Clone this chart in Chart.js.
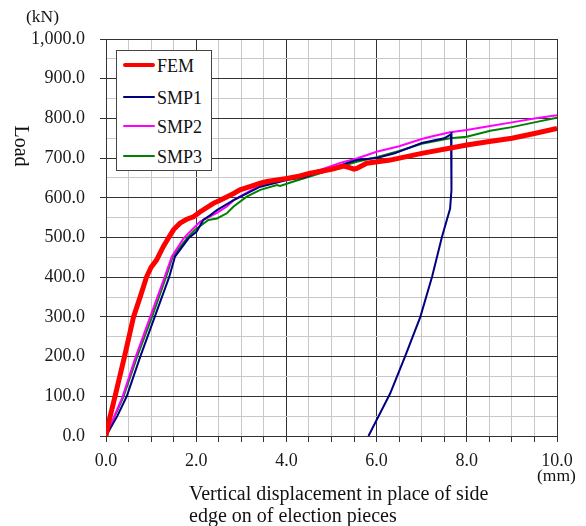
<!DOCTYPE html>
<html>
<head>
<meta charset="utf-8">
<script src="https://cdn.jsdelivr.net/npm/chart.js@4.4.0/dist/chart.umd.min.js"></script>
<style>
  html, body { margin: 0; padding: 0; background: #fff; }
  #wrap { width: 586px; height: 526px; position: relative; font-family: "Liberation Serif", serif; color: #111; }
  .txt { position: absolute; white-space: nowrap; }
  #legend { position: absolute; left: 116px; top: 50px; width: 96px; height: 121px; box-sizing: border-box; border: 1px solid #444; background: #fff; }
  .sw { position: absolute; left: 6px; width: 32px; border-radius: 2px; }
  .lab { position: absolute; left: 40px; font-size: 18px; line-height: 18px; }
</style>
</head>
<body>
<div id="wrap">
  <canvas id="myChart" width="586" height="526"></canvas>
  <div id="yUnit" class="txt" style="left:26px; top:8px; font-size:17.5px; line-height:17.5px;"></div>
  <div id="xUnit" class="txt" style="left:537px; top:467px; font-size:17.5px; line-height:17.5px;"></div>
  <div id="xTitle" class="txt" style="left:189px; top:482px; font-size:20px; line-height:22px;"></div>
  <div id="yTitle" class="txt" style="left:-8px; top:136px; width:60px; height:20px; font-size:20px; line-height:20px; text-align:center; transform:rotate(90deg);"></div>
  <div id="legend"></div>
</div>
<script>
// displacement (mm) / load (kN)
const femX = [0, 0.05, 0.2, 0.41, 0.61, 0.76, 0.9, 1.0, 1.12, 1.27, 1.38, 1.5, 1.64, 1.79, 1.94, 2.09, 2.38, 2.53, 2.83, 2.97, 3.19, 3.42, 3.57, 4.01, 4.3, 4.53, 5.0, 5.27, 5.4, 5.5, 5.56, 5.78, 6.3, 7.0, 8.0, 8.5, 9.0, 9.5, 10.0]
const femY = [0, 30, 100, 200, 300, 351, 401, 425, 443, 477, 498, 520, 536, 546, 552, 565, 586, 594, 611, 620, 628, 637, 641, 649, 655, 662, 672, 680, 676, 672, 674, 687, 695, 712, 733, 742, 750, 762, 775]

const smp1X = [0, 0.25, 0.46, 0.76, 1.08, 1.4, 1.53, 1.83, 2.01, 2.16, 2.3, 2.46, 2.83, 3.05, 3.42, 4.01, 4.4, 4.75, 5.2, 5.56, 6.0, 6.4, 7.0, 7.5, 7.65, 7.67, 7.66, 7.65, 7.63, 7.45, 7.23, 6.97, 6.63, 6.3, 5.82]
const smp1Y = [0, 50, 100, 200, 300, 400, 452, 498, 515, 545, 555, 569, 594, 607, 628, 645, 652, 666, 682, 695, 700, 712, 738, 750, 760, 766, 700, 620, 573, 502, 401, 300, 200, 107, 0]

const smp2X = [0, 0.37, 0.66, 0.98, 1.3, 1.46, 1.72, 1.9, 2.09, 2.46, 2.68, 2.83, 3.42, 4.01, 4.75, 5.19, 5.56, 6.0, 6.5, 7.0, 7.19, 7.63, 8.0, 8.52, 9.0, 9.5, 10.0]
const smp2Y = [0, 100, 200, 300, 400, 452, 498, 519, 540, 562, 578, 594, 632, 647, 670, 688, 699, 716, 730, 748, 754, 765, 771, 781, 790, 800, 808]

const smp3X = [0, 0.39, 0.69, 1.02, 1.33, 1.48, 1.79, 1.97, 2.27, 2.46, 2.68, 2.83, 3.12, 3.42, 3.79, 3.86, 4.16, 4.75, 5.19, 5.56, 6.0, 6.5, 7.0, 7.63, 8.0, 8.52, 9.0, 9.5, 10.0]
const smp3Y = [0, 100, 200, 300, 400, 452, 498, 519, 544, 548, 561, 578, 603, 620, 632, 630, 641, 662, 678, 691, 702, 718, 736, 750, 754, 769, 778, 790, 802]

const seriesNames = ['FEM', 'SMP1', 'SMP2', 'SMP3']
const seriesColors = ['#ff0000', '#000080', '#ff00ff', '#008000']
const seriesWidths = [5, 2, 2, 2]

const xMin = 0, xMax = 10, xStep = 0.5
const yMin = 0, yMax = 1000, yStep = 50

const xTitle = ['Vertical displacement in place of side', 'edge on of election pieces']
const yTitle = 'Load'
const yUnit = '(kN)'
const xUnit = '(mm)'

const FONT = '"Liberation Serif", serif'

const toPts = (xs, ys) => xs.map((x, i) => ({ x: x, y: ys[i] }))
const allX = [femX, smp1X, smp2X, smp3X]
const allY = [femY, smp1Y, smp2Y, smp3Y]

const datasets = seriesNames.map((name, i) => ({
    label: name,
    data: toPts(allX[i], allY[i]),
    showLine: true,
    borderColor: seriesColors[i],
    backgroundColor: seriesColors[i],
    borderWidth: seriesWidths[i],
    pointRadius: 0
}))

// texts and legend as html on top of the canvas
document.getElementById('yUnit').textContent = yUnit
document.getElementById('xUnit').textContent = xUnit
document.getElementById('yTitle').textContent = yTitle
document.getElementById('xTitle').innerHTML = xTitle.join('<br>')

const rows = [14, 46, 75, 105]
let leg = ''
seriesNames.forEach((n, i) => {
    const h = seriesWidths[i] === 5 ? 4 : 2
    leg += `<div class="sw" style="top:${rows[i] - h / 2}px; height:${h}px; background:${seriesColors[i]}"></div>`
    leg += `<div class="lab" style="top:${rows[i] - 8}px">${n}</div>`
})
document.getElementById('legend').innerHTML = leg

const ctx = document.getElementById('myChart')
new Chart(ctx, {
    type: 'scatter',
    data: { datasets: datasets },
    options: {
        responsive: false,
        animation: false,
        layout: { padding: { left: 0, right: 29, top: 39, bottom: 0 } },
        plugins: { legend: { display: false } },
        scales: {
            x: {
                type: 'linear',
                min: xMin,
                max: xMax,
                afterFit: (s) => { s.height = 90 },
                border: { color: '#333', width: 1 },
                grid: {
                    color: (c) => (c.tick && c.tick.value % 2 === 0) ? '#333' : '#c8c8c8',
                    tickColor: '#333',
                    tickLength: 6
                },
                ticks: {
                    stepSize: xStep,
                    autoSkip: false,
                    maxRotation: 0,
                    padding: 8,
                    color: '#1a1a1a',
                    font: { family: FONT, size: 18 },
                    callback: (v) => v % 2 === 0 ? v.toFixed(1) : ''
                }
            },
            y: {
                type: 'linear',
                min: yMin,
                max: yMax,
                afterFit: (s) => { s.width = 106 },
                border: { color: '#333', width: 1 },
                grid: {
                    color: (c) => (c.tick && c.tick.value % 100 === 0) ? '#333' : '#c8c8c8',
                    tickColor: (c) => (c.tick && c.tick.value % 100 === 0) ? '#333' : 'rgba(0,0,0,0)',
                    tickLength: 6
                },
                ticks: {
                    stepSize: yStep,
                    autoSkip: false,
                    padding: 15,
                    color: '#1a1a1a',
                    font: { family: FONT, size: 18 },
                    callback: (v) => v % 100 === 0 ? v.toLocaleString('en-US', { minimumFractionDigits: 1, maximumFractionDigits: 1 }) : ''
                }
            }
        }
    }
})
</script>
</body>
</html>
